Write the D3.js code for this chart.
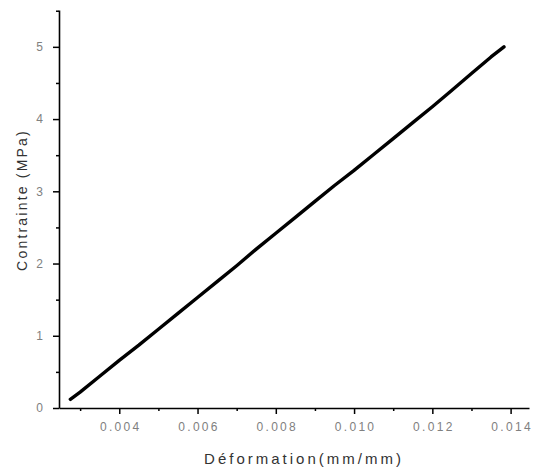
<!DOCTYPE html>
<html><head><meta charset="utf-8">
<script src="https://cdn.jsdelivr.net/npm/d3@7"></script>
<style>body{margin:0;background:#fff;} svg{display:block;}</style>
</head><body>
<svg id="c" width="544" height="470"></svg>
<script>
const strain = [0.00275, 0.0030, 0.0035, 0.0040, 0.0045, 0.0050, 0.0055, 0.0060, 0.0065, 0.0070, 0.0075, 0.0080, 0.0085, 0.0090, 0.0095, 0.0100, 0.0105, 0.0110, 0.0115, 0.0120, 0.0125, 0.0130, 0.0135, 0.01383];
const stress = [0.12, 0.22, 0.44, 0.66, 0.87, 1.09, 1.31, 1.53, 1.75, 1.97, 2.20, 2.42, 2.64, 2.86, 3.08, 3.29, 3.51, 3.73, 3.95, 4.17, 4.40, 4.63, 4.86, 5.00];
const xTicks = [0.004, 0.006, 0.008, 0.010, 0.012, 0.014];
const xMinor = [0.003, 0.005, 0.007, 0.009, 0.011, 0.013];
const yTicks = [0, 1, 2, 3, 4, 5];
const yMinor = [0.5, 1.5, 2.5, 3.5, 4.5, 5.5];

const svg = d3.select("#c");
const x = d3.scaleLinear().domain([0.00246, 0.01447]).range([59, 529]);
const y = d3.scaleLinear().domain([0, 5.51]).range([408, 10]);

const font = "'Liberation Sans', Arial, sans-serif";

// x axis
const gx = svg.append("g").attr("transform", "translate(0,408)");
gx.append("g").call(d3.axisBottom(x).tickValues(xMinor).tickSize(3).tickFormat(""))
  .call(g => g.select(".domain").remove())
  .call(g => g.selectAll("line").attr("stroke", "#000").attr("stroke-width", 1.5));
gx.append("g").call(d3.axisBottom(x).tickValues(xTicks).tickSize(6).tickSizeOuter(0).tickFormat(d3.format(".3f")).tickPadding(8))
  .call(g => g.select(".domain").attr("stroke", "#000").attr("stroke-width", 1.6))
  .call(g => g.selectAll("line").attr("stroke", "#000").attr("stroke-width", 1.5))
  .call(g => g.selectAll("text").attr("fill", "#808080").attr("font-size", 12).attr("letter-spacing", 2.3)
    .attr("dx", 1).attr("font-family", font));

// y axis
const gy = svg.append("g").attr("transform", "translate(59,0)");
gy.append("g").call(d3.axisLeft(y).tickValues(yMinor).tickSize(3).tickFormat(""))
  .call(g => g.select(".domain").remove())
  .call(g => g.selectAll("line").attr("stroke", "#000").attr("stroke-width", 1.5));
gy.append("g").call(d3.axisLeft(y).tickValues(yTicks).tickSize(6).tickSizeOuter(0).tickFormat(d3.format("d")).tickPadding(10))
  .call(g => g.select(".domain").attr("stroke", "#000").attr("stroke-width", 1.6))
  .call(g => g.selectAll("line").attr("stroke", "#000").attr("stroke-width", 1.5))
  .call(g => g.selectAll("text").attr("fill", "#808080").attr("font-size", 12).attr("font-family", font));

// line
const pts = strain.map((s, i) => [s, stress[i]]);
svg.append("path").datum(pts)
  .attr("fill", "none").attr("stroke", "#000").attr("stroke-width", 3.4)
  .attr("stroke-linecap", "round").attr("stroke-linejoin", "round")
  .attr("d", d3.line().x(d => x(d[0])).y(d => y(d[1])));

// titles
svg.append("text").attr("x", 304).attr("y", 464).attr("text-anchor", "middle")
  .attr("font-family", font).attr("font-size", 15).attr("letter-spacing", 3).attr("fill", "#333")
  .text("Déformation(mm/mm)");
svg.append("text").attr("transform", "translate(27,200) rotate(-90)").attr("text-anchor", "middle")
  .attr("font-family", font).attr("font-size", 14).attr("letter-spacing", 2.2).attr("fill", "#333")
  .text("Contrainte (MPa)");
</script>
</body></html>
